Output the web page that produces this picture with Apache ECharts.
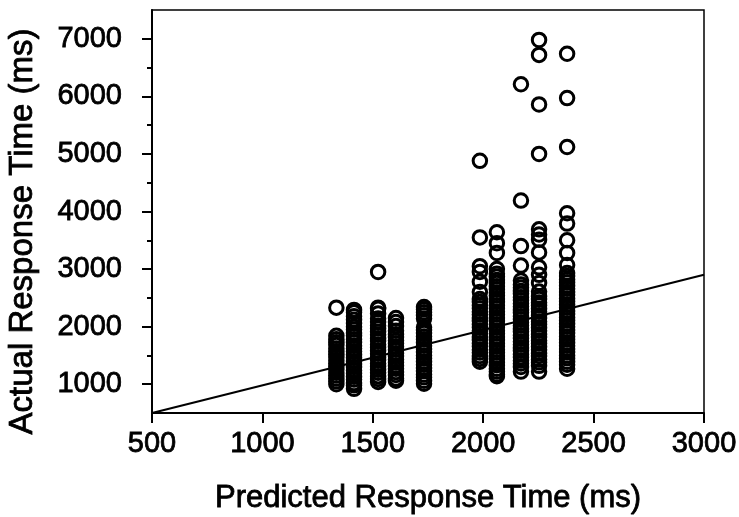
<!DOCTYPE html>
<html>
<head>
<meta charset="utf-8">
<script src="https://cdn.jsdelivr.net/npm/echarts@6/dist/echarts.min.js"></script>
<style>
html,body{margin:0;padding:0;background:#fff;}
#chart{width:739px;height:517px;}
</style>
</head>
<body>
<div id="chart"></div>
<script>
// Predicted response time of each column of points (ms)
const predictedX = [1335, 1415, 1524, 1605, 1732, 1985, 2062, 2171, 2253, 2380];
// Actual response times per column (ms)
const col1 = [2330, 1840, 1780, 1730, 1680, 1620, 1570, 1520, 1470, 1410, 1360, 1310, 1260, 1200, 1150, 1100, 1050, 1000];
const col2 = [2290, 2250, 2180, 2120, 2060, 2000, 1950, 1890, 1840, 1780, 1730, 1670, 1620, 1570, 1510, 1460, 1400, 1350, 1300, 1240, 1190, 1130, 1080, 1020, 980, 920];
const col3 = [2950, 2330, 2310, 2230, 2140, 2080, 2020, 1970, 1910, 1860, 1800, 1750, 1690, 1640, 1580, 1530, 1470, 1420, 1360, 1310, 1250, 1200, 1140, 1090, 1040];
const col4 = [2150, 2080, 2010, 1930, 1870, 1820, 1760, 1710, 1650, 1600, 1540, 1490, 1430, 1380, 1320, 1270, 1210, 1160, 1100, 1060];
const col5 = [2340, 2300, 2250, 2200, 2140, 1990, 1940, 1890, 1830, 1780, 1720, 1670, 1610, 1560, 1500, 1450, 1390, 1340, 1280, 1230, 1170, 1120, 1060, 1010];
const col6 = [4880, 3550, 3050, 2950, 2780, 2600, 2480, 2430, 2370, 2320, 2260, 2210, 2150, 2100, 2040, 1990, 1930, 1880, 1820, 1770, 1710, 1660, 1600, 1550, 1490, 1440, 1390];
const col7 = [3640, 3450, 3280, 3000, 2920, 2870, 2810, 2760, 2700, 2650, 2590, 2540, 2480, 2430, 2370, 2320, 2260, 2210, 2150, 2100, 2040, 1990, 1930, 1880, 1820, 1770, 1710, 1660, 1600, 1550, 1490, 1440, 1380, 1330, 1270, 1220, 1170, 1140];
const col8 = [6210, 4190, 3400, 3060, 2800, 2730, 2680, 2620, 2570, 2510, 2460, 2400, 2350, 2290, 2240, 2180, 2130, 2070, 2020, 1960, 1910, 1850, 1800, 1740, 1690, 1630, 1580, 1520, 1470, 1410, 1360, 1300, 1220];
const col9 = [6980, 6720, 5860, 5000, 3690, 3600, 3510, 3290, 3030, 2900, 2760, 2610, 2530, 2480, 2420, 2370, 2310, 2260, 2200, 2150, 2090, 2040, 1980, 1930, 1870, 1820, 1760, 1710, 1650, 1600, 1540, 1490, 1430, 1380, 1320, 1220];
const col10 = [6740, 5970, 5120, 3970, 3790, 3500, 3280, 3070, 2930, 2880, 2820, 2770, 2710, 2660, 2600, 2550, 2490, 2440, 2380, 2330, 2270, 2220, 2160, 2110, 2050, 2000, 1940, 1890, 1830, 1780, 1720, 1670, 1610, 1560, 1500, 1450, 1390, 1340, 1270];
const actualCols = [col1, col2, col3, col4, col5, col6, col7, col8, col9, col10];
// Fitted line end points [predicted, actual]
const fitLine = [[500, 500], [3000, 2900]];
// Tick values
const xTicks = [500, 1000, 1500, 2000, 2500, 3000];
const yMajorTicks = [1000, 2000, 3000, 4000, 5000, 6000, 7000];
const yMinorTicks = [1500, 2500, 3500, 4500, 5500, 6500];

const points = [];
actualCols.forEach((col, i) => col.forEach(v => points.push([predictedX[i], v])));

const FONT = '"Liberation Sans", Arial, Helvetica, sans-serif';
const plain = v => String(v);
const txt = (size) => ({fontFamily: FONT, fontSize: size, color: '#000', textBorderColor: '#000', textBorderWidth: 0.8});
const chart = echarts.init(document.getElementById('chart'));
chart.setOption({
  animation: false,
  backgroundColor: '#fff',
  grid: {left: 152, right: 35, top: 10, bottom: 104, outerBoundsMode: 'none', containLabel: false,
         show: true, borderColor: '#000', borderWidth: 1.5, backgroundColor: 'transparent'},
  xAxis: {
    type: 'value', min: 500, max: 3000, interval: 500,
    name: 'Predicted Response Time (ms)', nameLocation: 'middle', nameGap: 70,
    nameTextStyle: txt(31),
    axisLine: {show: true, lineStyle: {color: '#000', width: 2}},
    axisTick: {show: true, length: 10, lineStyle: {color: '#000', width: 2}, customValues: xTicks},
    axisLabel: Object.assign(txt(29), {margin: 16, customValues: xTicks, formatter: plain}),
    splitLine: {show: false}
  },
  yAxis: [{
    type: 'value', min: 500, max: 7500,
    name: 'Actual Response Time (ms)', nameLocation: 'middle', nameGap: 113,
    nameTextStyle: Object.assign(txt(33), {padding: [0, 40, 0, 0]}),
    axisLine: {show: true, lineStyle: {color: '#000', width: 2}},
    axisTick: {show: true, length: 10, lineStyle: {color: '#000', width: 2}, customValues: yMajorTicks},
    axisLabel: Object.assign(txt(29), {margin: 30, customValues: yMajorTicks, formatter: plain}),
    splitLine: {show: false}
  }, {
    type: 'value', min: 500, max: 7500, position: 'left',
    axisLine: {show: false},
    axisTick: {show: true, length: 5, lineStyle: {color: '#000', width: 2}, customValues: yMinorTicks},
    axisLabel: {show: false},
    splitLine: {show: false}
  }],
  series: [{
    type: 'scatter', data: points, symbol: 'circle', symbolSize: 13.5,
    itemStyle: {color: 'rgba(0,0,0,0)', borderColor: '#000', borderWidth: 3, opacity: 1},
    silent: true
  }, {
    type: 'line', data: fitLine, symbol: 'none',
    lineStyle: {color: '#000', width: 2}, silent: true
  }]
});
</script>
</body>
</html>
